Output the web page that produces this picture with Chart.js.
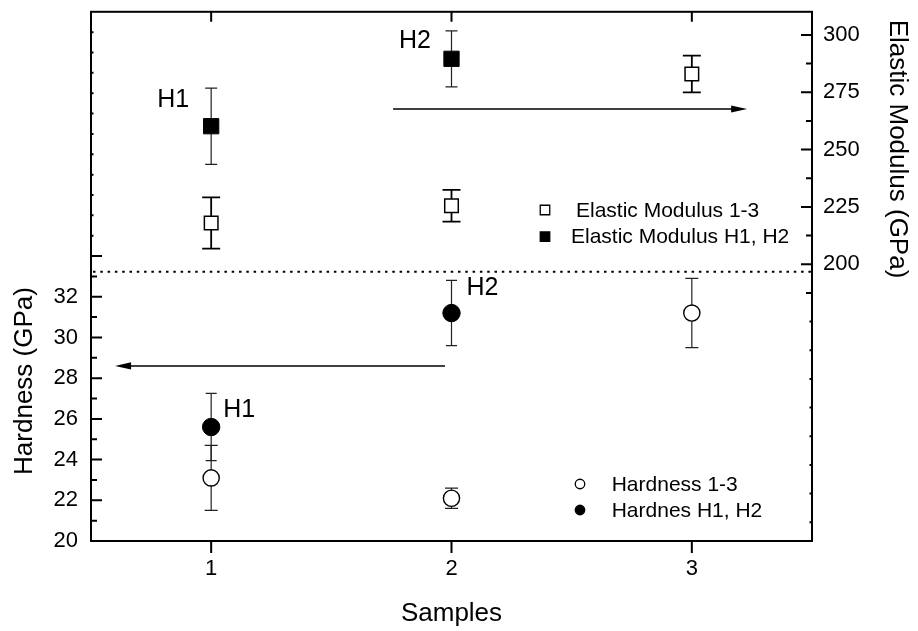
<!DOCTYPE html>
<html>
<head>
<meta charset="utf-8">
<script src="https://cdn.jsdelivr.net/npm/chart.js@4.4.1/dist/chart.umd.min.js"></script>
<style>
  html, body { margin: 0; padding: 0; background: #fff; }
  #wrap { width: 918px; height: 631px; }
</style>
</head>
<body>
<div id="wrap"><canvas id="c" width="918" height="631"></canvas></div>
<script>
// ---- measured values ----
const samples = [1, 2, 3];
const samplesH = [1, 2];

const modulus13 = [218.0, 225.5, 283.0];
const modulus13Err = [11.2, 6.9, 8.0];
const modulusH = [260.2, 289.6];
const modulusHErr = [16.6, 12.2];

const hardness13 = [23.1, 22.1, 31.2];
const hardness13Err = [1.6, 0.5, 1.7];
const hardnessH = [25.6, 31.2];
const hardnessHErr = [1.65, 1.6];

// ---- axis tick values ----
const sampleTicks = [1, 2, 3];
const hardnessTicks = [20, 22, 24, 26, 28, 30, 32];
const hardnessMajorMarks = [20, 22, 24, 26, 28, 30, 32, 34];
const hardnessMinorMarks = [21, 23, 25, 27, 29, 31, 33];
const hardnessTinyMarks = [35, 36, 37, 38, 39, 40, 41, 42, 43, 44, 45];
const modulusTicks = [200, 225, 250, 275, 300];
const modulusMinorMarks = [187.5, 212.5, 237.5, 262.5, 287.5];
const modulusTinyMarks = [175, 162.5, 150, 137.5, 125, 112.5, 100, 87.5];

const FONT = '"Liberation Sans", Arial, Helvetica, sans-serif';

function pts(xs, ys) { return xs.map((x, i) => ({ x: x, y: ys[i] })); }

// divider between the two panels (hardness units)
const dividerAt = 33.23;

// direction arrows: which axis they refer to
const arrows = [
  { axis: 'yE', y: 267.7, from: 1.757, to: 3.23 },
  { axis: 'yH', y: 28.6, from: 1.973, to: 0.6 }
];

// sample labels placed next to the H1/H2 markers (dataset index, point index, pixel offset)
const pointLabels = [
  { text: 'H1', ds: 1, idx: 0, dx: -38, dy: -27 },
  { text: 'H2', ds: 1, idx: 1, dx: -36.5, dy: -18.5 },
  { text: 'H2', ds: 3, idx: 1, dx: 31, dy: -26 },
  { text: 'H1', ds: 3, idx: 0, dx: 28, dy: -18 }
];

function drawMarker(ctx, style, filled, x, y, size) {
  ctx.save();
  ctx.lineWidth = 1.3;
  ctx.strokeStyle = '#000';
  ctx.fillStyle = filled ? '#000' : '#fff';
  ctx.beginPath();
  if (style === 'rect') ctx.rect(x - size / 2, y - size / 2, size, size);
  else ctx.arc(x, y, size / 2, 0, Math.PI * 2);
  ctx.fill();
  ctx.stroke();
  ctx.restore();
}

const decor = {
  id: 'decor',
  beforeDatasetsDraw(chart) {
    const ctx = chart.ctx;
    chart.data.datasets.forEach((ds, i) => {
      const meta = chart.getDatasetMeta(i);
      const ys = chart.scales[ds.yAxisID];
      ctx.save();
      ctx.strokeStyle = ds.barColor;
      ctx.lineWidth = ds.barWidth;
      ds.data.forEach((p, j) => {
        const x = meta.data[j].x;
        const yt = ys.getPixelForValue(p.y + ds.err[j]);
        const yb = ys.getPixelForValue(p.y - ds.err[j]);
        const hw = ds.capWidth / 2;
        ctx.beginPath();
        ctx.moveTo(x, yt); ctx.lineTo(x, yb);
        ctx.moveTo(x - hw, yt); ctx.lineTo(x + hw, yt);
        ctx.moveTo(x - hw, yb); ctx.lineTo(x + hw, yb);
        ctx.stroke();
      });
      ctx.restore();
    });
  },
  afterDraw(chart) {
    const ctx = chart.ctx;
    const { left, right, top, bottom } = chart.chartArea;
    const sx = chart.scales.x, sH = chart.scales.yH, sE = chart.scales.yE;
    ctx.save();

    // frame
    ctx.strokeStyle = '#000';
    ctx.lineWidth = 2;
    ctx.strokeRect(left, top, right - left, bottom - top);

    // tick marks
    ctx.beginPath();
    hardnessMajorMarks.forEach(v => { const y = sH.getPixelForValue(v); ctx.moveTo(left, y); ctx.lineTo(left + 11, y); });
    hardnessMinorMarks.forEach(v => { const y = sH.getPixelForValue(v); ctx.moveTo(left, y); ctx.lineTo(left + 6, y); });
    hardnessTinyMarks.forEach(v => { const y = sH.getPixelForValue(v); ctx.moveTo(left, y); ctx.lineTo(left + 2.5, y); });
    modulusTicks.forEach(v => { const y = sE.getPixelForValue(v); ctx.moveTo(right, y); ctx.lineTo(right - 11, y); });
    modulusMinorMarks.forEach(v => { const y = sE.getPixelForValue(v); ctx.moveTo(right, y); ctx.lineTo(right - 6, y); });
    modulusTinyMarks.forEach(v => { const y = sE.getPixelForValue(v); ctx.moveTo(right, y); ctx.lineTo(right - 2.5, y); });
    sampleTicks.forEach(v => {
      const x = sx.getPixelForValue(v);
      ctx.moveTo(x, top); ctx.lineTo(x, top + 10);
      ctx.moveTo(x, bottom); ctx.lineTo(x, bottom + 12);
    });
    ctx.stroke();

    // dotted divider
    ctx.save();
    ctx.setLineDash([2.5, 4.8]);
    ctx.lineWidth = 2;
    const yd = sH.getPixelForValue(dividerAt);
    ctx.beginPath(); ctx.moveTo(left + 2, yd); ctx.lineTo(right - 1, yd); ctx.stroke();
    ctx.restore();

    // arrows
    arrows.forEach(a => {
      const ys = chart.scales[a.axis];
      const y = ys.getPixelForValue(a.y);
      const x0 = sx.getPixelForValue(a.from), x1 = sx.getPixelForValue(a.to);
      const dir = x1 > x0 ? 1 : -1;
      const hl = 16, hh = 3.6;
      ctx.lineWidth = 1.5;
      ctx.beginPath(); ctx.moveTo(x0, y); ctx.lineTo(x1 - dir * hl * 0.6, y); ctx.stroke();
      ctx.beginPath();
      ctx.moveTo(x1, y);
      ctx.lineTo(x1 - dir * hl, y - hh);
      ctx.lineTo(x1 - dir * hl, y + hh);
      ctx.closePath();
      ctx.fillStyle = '#000';
      ctx.fill();
    });

    // H1 / H2 labels
    ctx.fillStyle = '#000';
    ctx.font = '25px ' + FONT;
    ctx.textAlign = 'center';
    ctx.textBaseline = 'middle';
    pointLabels.forEach(l => {
      const el = chart.getDatasetMeta(l.ds).data[l.idx];
      ctx.fillText(l.text, el.x + l.dx, el.y + l.dy + 1);
    });

    // legends
    ctx.font = '21px ' + FONT;
    ctx.textAlign = 'left';
    ctx.textBaseline = 'alphabetic';
    const ds = chart.data.datasets;
    drawMarker(ctx, 'rect', false, 545, 210, 9.5);
    ctx.fillText(ds[0].label, 576, 216.8);
    drawMarker(ctx, 'rect', true, 545, 236.7, 9.5);
    ctx.fillText(ds[1].label, 571, 242.8);
    drawMarker(ctx, 'circle', false, 580, 484, 9.5);
    ctx.fillText(ds[2].label, 611.7, 490.8);
    drawMarker(ctx, 'circle', true, 580, 510, 9.5);
    ctx.fillText(ds[3].label, 611.7, 516.8);

    // axis titles
    ctx.font = '26px ' + FONT;
    ctx.textAlign = 'center';
    ctx.save();
    ctx.translate(31.7, 381);
    ctx.rotate(-Math.PI / 2);
    ctx.fillText('Hardness (GPa)', 0, 0);
    ctx.restore();
    ctx.save();
    ctx.translate(890, 149);
    ctx.rotate(Math.PI / 2);
    ctx.fillText('Elastic Modulus (GPa)', 0, 0);
    ctx.restore();
    ctx.fillText('Samples', (left + right) / 2, 620.5);

    ctx.restore();
  }
};

const axisBase = {
  grid: { display: false, drawTicks: false },
  border: { display: false }
};

new Chart(document.getElementById('c'), {
  type: 'scatter',
  data: {
    datasets: [
      {
        label: 'Elastic Modulus 1-3', yAxisID: 'yE',
        data: pts(samples, modulus13), err: modulus13Err,
        pointStyle: 'rect', pointRadius: 9.6, pointBorderWidth: 1.5,
        pointBackgroundColor: '#fff', pointBorderColor: '#000',
        barColor: '#000', barWidth: 1.8, capWidth: 18
      },
      {
        label: 'Elastic Modulus H1, H2', yAxisID: 'yE',
        data: pts(samplesH, modulusH), err: modulusHErr,
        pointStyle: 'rect', pointRadius: 10.8, pointBorderWidth: 1,
        pointBackgroundColor: '#000', pointBorderColor: '#000',
        barColor: '#222', barWidth: 1.2, capWidth: 12
      },
      {
        label: 'Hardness 1-3', yAxisID: 'yH',
        data: pts(samples, hardness13), err: hardness13Err,
        pointStyle: 'circle', pointRadius: 8.1, pointBorderWidth: 1.4,
        pointBackgroundColor: '#fff', pointBorderColor: '#000',
        barColor: '#222', barWidth: 1.2, capWidth: 13
      },
      {
        label: 'Hardnes H1, H2', yAxisID: 'yH',
        data: pts(samplesH, hardnessH), err: hardnessHErr,
        pointStyle: 'circle', pointRadius: 8.7, pointBorderWidth: 1,
        pointBackgroundColor: '#000', pointBorderColor: '#000',
        barColor: '#222', barWidth: 1.2, capWidth: 11
      }
    ]
  },
  options: {
    responsive: false,
    animation: false,
    devicePixelRatio: 1,
    events: [],
    layout: { padding: { top: 10, left: 0, right: 0, bottom: 0 } },
    plugins: { legend: { display: false }, tooltip: { enabled: false } },
    scales: {
      x: Object.assign({}, axisBase, {
        type: 'linear', position: 'bottom', min: 0.5, max: 3.5,
        ticks: { color: '#000', font: { family: FONT, size: 22 }, padding: 15 },
        afterBuildTicks: s => { s.ticks = sampleTicks.map(v => ({ value: v })); },
        afterFit: s => { s.height = 90; s.paddingLeft = 0; s.paddingRight = 0; }
      }),
      yH: Object.assign({}, axisBase, {
        type: 'linear', position: 'left', min: 20, max: 46,
        ticks: { color: '#000', font: { family: FONT, size: 22 }, padding: 13 },
        afterBuildTicks: s => { s.ticks = hardnessTicks.map(v => ({ value: v })); },
        afterFit: s => { s.width = 91; s.paddingTop = 0; s.paddingBottom = 0; }
      }),
      yE: Object.assign({}, axisBase, {
        type: 'linear', position: 'right', min: 79.3, max: 310.1,
        ticks: { color: '#000', font: { family: FONT, size: 22 }, padding: 11 },
        afterBuildTicks: s => { s.ticks = modulusTicks.map(v => ({ value: v })); },
        afterFit: s => { s.width = 106; s.paddingTop = 0; s.paddingBottom = 0; }
      })
    }
  },
  plugins: [decor]
});
</script>
</body>
</html>
